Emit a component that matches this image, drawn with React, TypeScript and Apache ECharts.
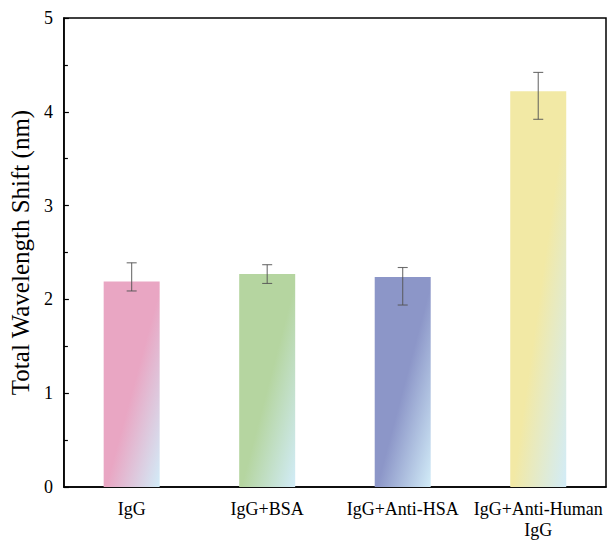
import React, { useEffect, useRef } from "react";
import * as echarts from "echarts";

const categories = ["IgG", "IgG+BSA", "IgG+Anti-HSA", "IgG+Anti-Human IgG"];
const values = [2.19, 2.27, 2.24, 4.22];
const errPlus = [0.2, 0.1, 0.1, 0.2];
const errMinus = [0.1, 0.1, 0.3, 0.3];
const barColors = ["#e9a6c3", "#b5d5a0", "#8c96c8", "#f2e9a5"];
const fadeColor = "#d2ecf8";
const yTicks = [0, 1, 2, 3, 4, 5];

const FONT = "'Liberation Serif', 'Times New Roman', serif";

export default function App() {
  const ref = useRef<HTMLDivElement>(null);
  useEffect(() => {
    if (!ref.current) return;
    const chart = echarts.init(ref.current, null, { renderer: "svg" });
    const barData = values.map((v, i) => ({
      value: v,
      itemStyle: {
        color: new echarts.graphic.LinearGradient(0, 0, 1, 1, [
          { offset: 0, color: barColors[i] },
          { offset: 0.52, color: barColors[i] },
          { offset: 1, color: fadeColor },
        ]),
      },
    }));
    const errData = values.map((v, i) => [i, v, errPlus[i], errMinus[i]]);
    chart.setOption({
      animation: false,
      textStyle: { fontFamily: FONT },
      grid: {
        left: 56,
        right: 2,
        top: 18,
        bottom: 52,
        show: true,
        borderColor: "#000",
        borderWidth: 1.5,
        backgroundColor: "transparent",
      },
      xAxis: {
        type: "category",
        data: categories,
        axisLine: { lineStyle: { color: "#000", width: 1.5 } },
        axisTick: {
          inside: true,
          alignWithLabel: true,
          length: 8,
          lineStyle: { color: "#000", width: 1.5 },
        },
        axisLabel: {
          color: "#000",
          fontFamily: FONT,
          fontSize: 18,
          lineHeight: 21,
          margin: 11,
          interval: 0,
          formatter: (v: string) => v.replace("Human ", "Human\n"),
        },
        splitLine: { show: false },
      },
      yAxis: {
        type: "value",
        min: yTicks[0],
        max: yTicks[yTicks.length - 1],
        interval: 1,
        name: "Total Wavelength Shift (nm)",
        nameLocation: "middle",
        nameGap: 19,
        nameTextStyle: { color: "#000", fontFamily: FONT, fontSize: 25 },
        axisLine: { show: true, lineStyle: { color: "#000", width: 1.5 } },
        axisTick: {
          show: true,
          inside: true,
          length: 5,
          lineStyle: { color: "#000", width: 1.2 },
        },
        minorTick: {
          show: true,
          splitNumber: 2,
          length: 4,
          lineStyle: { color: "#000", width: 1.2 },
        },
        axisLabel: {
          color: "#000",
          fontFamily: FONT,
          fontSize: 18,
          margin: 11,
        },
        splitLine: { show: false },
      },
      series: [
        {
          type: "bar",
          data: barData,
          barWidth: 56,
        },
        {
          type: "custom",
          data: errData,
          z: 10,
          renderItem: (params: any, api: any) => {
            const x = api.value(0);
            const v = api.value(1);
            const p = api.value(2);
            const m = api.value(3);
            const top = api.coord([x, v + p]);
            const bot = api.coord([x, v - m]);
            const hw = 5;
            const style = { stroke: "#555", lineWidth: 1.1, opacity: 0.85 };
            return {
              type: "group",
              children: [
                { type: "line", shape: { x1: top[0], y1: top[1], x2: bot[0], y2: bot[1] }, style },
                { type: "line", shape: { x1: top[0] - hw, y1: top[1], x2: top[0] + hw, y2: top[1] }, style },
                { type: "line", shape: { x1: bot[0] - hw, y1: bot[1], x2: bot[0] + hw, y2: bot[1] }, style },
              ],
            };
          },
        },
      ],
    });
    return () => chart.dispose();
  }, []);
  return (
    <div
      ref={ref}
      style={{ position: "absolute", left: 0, top: 0, width: 608, height: 540, background: "#fff" }}
    />
  );
}
